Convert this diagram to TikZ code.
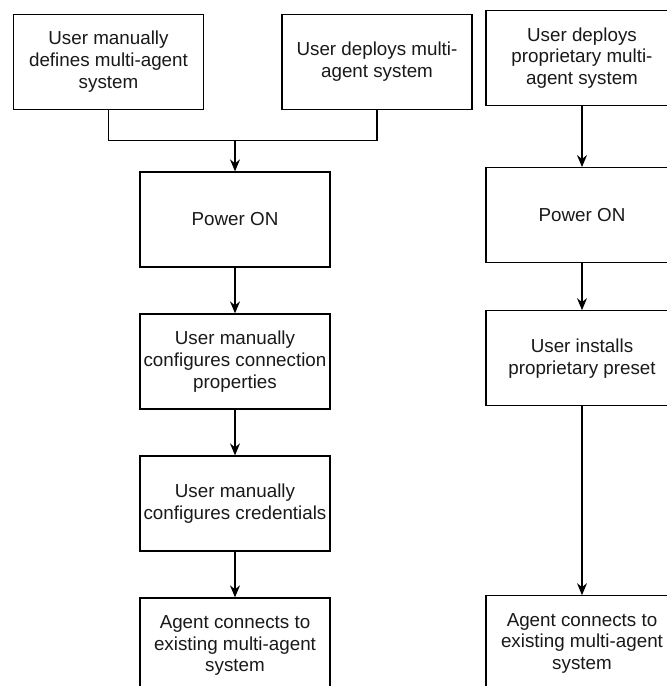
\documentclass[tikz,border=0pt]{standalone}
\usepackage{fontspec}
\setmainfont{Liberation Sans}
\usetikzlibrary{arrows.meta}
\begin{document}
\begin{tikzpicture}[x=1pt,y=-1pt,
  flowbox/.style={draw, line width=1.3pt, minimum width=190pt, minimum height=95pt, align=center, inner sep=0pt,
    font=\fontsize{18.8}{21.7}\selectfont, text=black!90},
  conn/.style={line width=1.3pt},
  arr/.style={conn, -{Stealth[length=12pt,width=10pt,inset=4pt]}}]
\clip (0,0) rectangle (667,686);
\fill[white] (0,0) rectangle (667,686);
% left column
\node[flowbox] (a) at (108.5,61.75) {User manually\\defines multi-agent\\system};
\node[flowbox] (b) at (377,61.75) {User deploys multi-\\agent system};
\node[flowbox] (p1) at (235,219.5) {Power ON};
\node[flowbox] (c1) at (235,361.5) {User manually\\configures connection\\properties};
\node[flowbox] (c2) at (235,503.5) {User manually\\configures credentials};
\node[flowbox] (g1) at (235,645.5) {Agent connects to\\existing multi-agent\\system};
\coordinate (j) at (235,140.7);
\draw[conn] (a.south) |- (j);
\draw[conn] (b.south) |- (j);
\draw[arr] (j) -- (p1.north);
\draw[arr] (p1) -- (c1);
\draw[arr] (c1) -- (c2);
\draw[arr] (c2) -- (g1);
% right column
\node[flowbox, minimum width=192pt] (r1) at (582,58) {User deploys\\proprietary multi-\\agent system};
\node[flowbox, minimum width=192pt] (r2) at (582,215.2) {Power ON};
\node[flowbox, minimum width=192pt] (r3) at (582,358.3) {User installs\\proprietary preset};
\node[flowbox, minimum width=192pt] (r4) at (582,643.3) {Agent connects to\\existing multi-agent\\system};
\draw[arr] (r1) -- (r2);
\draw[arr] (r2) -- (r3);
\draw[arr] (r3) -- (r4);
\end{tikzpicture}
\end{document}
